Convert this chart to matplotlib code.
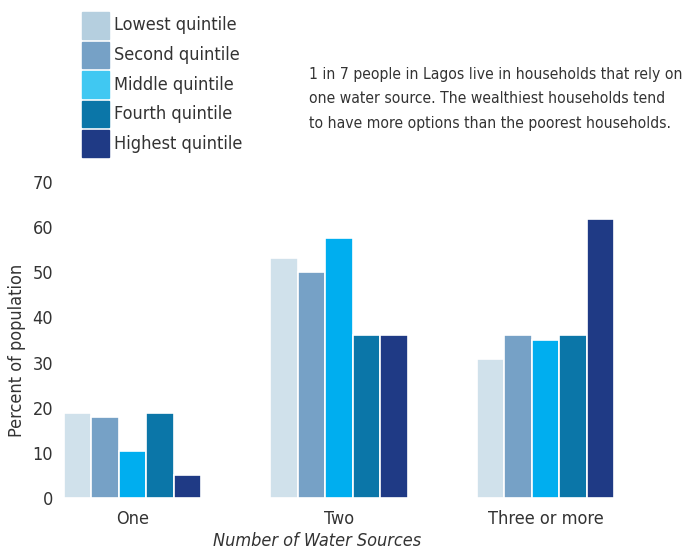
import numpy as np
import matplotlib
matplotlib.use("Agg")
import matplotlib.pyplot as plt
from matplotlib.patches import Rectangle

plt.rcParams["font.family"] = ["DejaVu Sans"]
plt.rcParams["font.stretch"] = "condensed"
plt.rcParams["text.color"] = "#333333"

# Data
sources = ["One", "Two", "Three or more"]
quintiles = ["Lowest quintile", "Second quintile", "Middle quintile",
             "Fourth quintile", "Highest quintile"]
lowest = [18.9, 53.2, 30.8]
second = [18.0, 50.1, 36.1]
middle = [10.4, 57.6, 35.0]
fourth = [18.9, 36.1, 36.1]
highest = [5.0, 36.1, 61.9]
values = [lowest, second, middle, fourth, highest]
colors = ["#d0e1eb", "#76a1c6", "#00aeef", "#0b76a8", "#1f3a85"]
legend_colors = ["#b5cfdf", "#76a1c6", "#40c8f2", "#0b76a8", "#1f3a85"]

W, H = 684, 551
fig = plt.figure(figsize=(W / 100, H / 100), dpi=100)
ax = fig.add_axes([60 / W, 1 - 498 / H, 560 / W, 316 / H])

x = np.arange(len(sources))
slot = 0.1327
for i, (vals, c) in enumerate(zip(values, colors)):
    ax.bar(x + (i - 2) * slot, vals, width=slot, color=c,
           edgecolor="white", linewidth=1.2, label=quintiles[i])

ax.set_xlim((60 - 132.5) / 206.5, (620 - 132.5) / 206.5)
ax.set_ylim(0, 70)
ax.set_yticks(range(0, 71, 10))
ax.set_xticks(x)
ax.set_xticklabels(sources)
ax.tick_params(axis="both", length=0, labelsize=13, colors="#333333")
ax.tick_params(axis="y", pad=5)
ax.tick_params(axis="x", pad=9)
for s in ax.spines.values():
    s.set_visible(False)

fig.text(17 / W, 1 - 350 / H, "Percent of population", rotation=90,
         ha="center", va="center", fontsize=13)
fig.text(317 / W, 1 - 541 / H, "Number of Water Sources", style="italic",
         ha="center", va="center", fontsize=13)

fig.text(309 / W, 1 - 99 / H,
         "1 in 7 people in Lagos live in households that rely on\n"
         "one water source. The wealthiest households tend\n"
         "to have more options than the poorest households.",
         ha="left", va="center", fontsize=11.25, linespacing=1.8)

# legend drawn as swatches + labels
for i, (lab, c) in enumerate(zip(quintiles, legend_colors)):
    top = 12 + i * 29.5
    fig.patches.append(Rectangle((82 / W, 1 - (top + 26.5) / H), 27 / W, 26.5 / H,
                                 transform=fig.transFigure, color=c))
    fig.text(114 / W, 1 - (top + 13.5) / H, lab, ha="left", va="center",
             fontsize=13)

fig.savefig("out.png", dpi=100)
